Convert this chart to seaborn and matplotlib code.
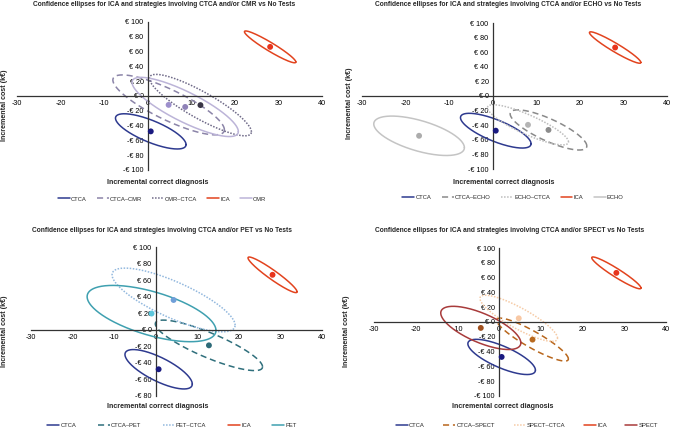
import numpy as np
import matplotlib
matplotlib.use("Agg")
import matplotlib.pyplot as plt
import seaborn as sns
from matplotlib.lines import Line2D

# ---------------- data ----------------
titles = [
    "Confidence ellipses for ICA and strategies involving CTCA and/or CMR vs No Tests",
    "Confidence ellipses for ICA and strategies involving CTCA and/or ECHO vs No Tests",
    "Confidence ellipses for ICA and strategies involving CTCA and/or PET vs No Tests",
    "Confidence ellipses for ICA and strategies involving CTCA and/or SPECT vs No Tests",
]

# CMR panel
cmr_names = ["CTCA", "CTCA\u2013CMR", "CMR\u2013CTCA", "ICA", "CMR"]
cmr_cx = [0.7, 4.8, 12.1, 28.1, 8.6]
cmr_cy = [-47.8, -12.0, -12.3, 66.4, -14.8]
cmr_ex = [8.1, 12.8, 11.7, 5.9, 12.2]
cmr_ey = [23.8, 40.5, 41.5, 21.5, 40.0]
cmr_rho = [-0.75, -0.83, -0.87, -0.95, -0.83]

# ECHO panel
echo_names = ["CTCA", "CTCA\u2013ECHO", "ECHO\u2013CTCA", "ICA", "ECHO"]
echo_cx = [0.7, 12.8, 8.1, 28.1, -16.9]
echo_cy = [-47.5, -46.5, -39.5, 66.4, -54.5]
echo_ex = [8.1, 8.8, 9.3, 5.9, 10.4]
echo_ey = [23.8, 27.5, 27.5, 21.5, 27.0]
echo_rho = [-0.75, -0.80, -0.85, -0.95, -0.60]

# PET panel
pet_names = ["CTCA", "CTCA\u2013PET", "PET\u2013CTCA", "ICA", "PET"]
pet_cx = [0.7, 12.8, 4.3, 28.1, -1.0]
pet_cy = [-47.7, -18.8, 36.0, 66.4, 19.6]
pet_ex = [8.1, 12.9, 14.8, 5.9, 15.5]
pet_ey = [23.8, 30.5, 38.5, 21.5, 34.0]
pet_rho = [-0.75, -0.85, -0.79, -0.95, -0.60]

# SPECT panel
spect_names = ["CTCA", "CTCA\u2013SPECT", "SPECT\u2013CTCA", "ICA", "SPECT"]
spect_cx = [0.6, 8.0, 4.7, 28.1, -4.4]
spect_cy = [-47.2, -23.8, 5.0, 66.4, -8.0]
spect_ex = [8.1, 8.6, 9.3, 5.9, 9.6]
spect_ey = [23.8, 29.0, 31.2, 21.5, 29.2]
spect_rho = [-0.75, -0.90, -0.86, -0.95, -0.69]

x_ticks = [-30, -20, -10, 0, 10, 20, 30, 40]
y_ticks_full = [-100, -80, -60, -40, -20, 0, 20, 40, 60, 80, 100]
y_ticks_pet = [-80, -60, -40, -20, 0, 20, 40, 60, 80, 100]

# ---------------- styles ----------------
line_colors = [
    ["#2e3a8f", "#8b84a8", "#6f6a88", "#e2431e", "#bcb4d8"],
    ["#2e3a8f", "#8a8a8a", "#bdbdbd", "#e2431e", "#c4c4c4"],
    ["#2e3a8f", "#2f6f7c", "#92b8de", "#e2431e", "#3fa0b0"],
    ["#2e3a8f", "#b8661c", "#f6cba6", "#e2431e", "#a83b3b"],
]
point_colors = [
    ["#1a1a80", "#9d8fcc", "#3a3646", "#e8341c", "#8f82b8"],
    ["#1a1a80", "#8c8c8c", "#b5b5b5", "#e8341c", "#acacac"],
    ["#1a1a80", "#2d6a78", "#6f9fd8", "#e8341c", "#5cc6dc"],
    ["#1a1a80", "#b86a20", "#f8c8a4", "#e8341c", "#a0501e"],
]
styles = ["-", (0, (4, 2.5)), (0, (1, 1)), "-", "-"]

panels = [
    (cmr_names, cmr_cx, cmr_cy, cmr_ex, cmr_ey, cmr_rho, y_ticks_full, (-100, 100)),
    (echo_names, echo_cx, echo_cy, echo_ex, echo_ey, echo_rho, y_ticks_full, (-100, 100)),
    (pet_names, pet_cx, pet_cy, pet_ex, pet_ey, pet_rho, y_ticks_pet, (-80, 100)),
    (spect_names, spect_cx, spect_cy, spect_ex, spect_ey, spect_rho, y_ticks_full, (-100, 100)),
]

sns.set_style("white")
plt.rcParams["font.family"] = ["Liberation Sans", "DejaVu Sans"]

W, H = 673, 429
fig = plt.figure(figsize=(W / 100, H / 100), dpi=100)

# axes rectangles in pixels: left, right, top, bottom
rects = [(17, 322, 22, 170), (362, 667, 23, 169), (31, 322, 247, 396), (374, 666, 248, 396)]
title_pos = [(164, 5), (508, 5), (162, 231), (510, 231)]
ylab_pos = [(5, 105), (349, 103), (5, 331), (347, 331)]
xlab_pos = [(158, 183), (504, 183), (158, 407), (503, 407)]
leg_pos = [(162, 199), (513, 197), (172, 425), (527, 425)]
col_space = [1.7, 1.8, 3.7, 3.2]

def fmt_euro(v):
    return f"\u20ac {v}" if v >= 0 else f"-\u20ac {abs(v)}"

t = np.linspace(0, 2 * np.pi, 300)

for i, (names, cx, cy, ex, ey, rho, yt, ylim) in enumerate(panels):
    l, r, tp, b = rects[i]
    ax = fig.add_axes([l / W, 1 - b / H, (r - l) / W, (b - tp) / H])
    handles = []
    for j in range(len(names)):
        s = np.sqrt(1 - rho[j] ** 2)
        xs = cx[j] + ex[j] * np.cos(t)
        ys = cy[j] + ey[j] * (rho[j] * np.cos(t) + s * np.sin(t))
        sns.lineplot(x=xs, y=ys, sort=False, estimator=None, ax=ax,
                     color=line_colors[i][j], linestyle=styles[j], lw=1.1)
        handles.append(Line2D([], [], color=line_colors[i][j], linestyle=styles[j],
                              lw=1.1, label=names[j]))
    for j in range(len(names)):
        sns.scatterplot(x=[cx[j]], y=[cy[j]], color=point_colors[i][j], s=18,
                        edgecolor="none", ax=ax, zorder=5)
    ax.set_xlim(-30, 40)
    ax.set_ylim(*ylim)
    ax.set_xticks(x_ticks)
    ax.set_xticklabels([str(v) for v in x_ticks])
    ax.set_yticks(yt)
    ax.set_yticklabels([fmt_euro(v) for v in yt])
    ax.spines["left"].set_position(("data", 0))
    ax.spines["bottom"].set_position(("data", 0))
    ax.spines["top"].set_visible(False)
    ax.spines["right"].set_visible(False)
    for sp in ("left", "bottom"):
        ax.spines[sp].set_color("#333333")
        ax.spines[sp].set_linewidth(0.9)
    ax.tick_params(axis="both", labelsize=5.2, length=2, width=0.6, pad=1,
                   colors="#333333", labelcolor="black", direction="out")
    ax.set_xlabel("")
    ax.set_ylabel("")
    if ax.get_legend() is not None:
        ax.get_legend().remove()
    ax.set_facecolor("none")

    tx, ty = title_pos[i]
    fig.text(tx / W, 1 - ty / H, titles[i], ha="center", va="center",
             fontsize=4.8, fontweight="bold")
    yx, yy = ylab_pos[i]
    fig.text(yx / W, 1 - yy / H, "Incremental cost (k\u20ac)", ha="center", va="center",
             rotation=90, fontsize=5.1, fontweight="bold")
    xx, xy = xlab_pos[i]
    fig.text(xx / W, 1 - xy / H, "Incremental correct diagnosis", ha="center",
             va="center", fontsize=5.1, fontweight="bold")
    lx, ly = leg_pos[i]
    fig.legend(handles=handles, loc="center", bbox_to_anchor=(lx / W, 1 - ly / H),
               ncol=5, frameon=False, fontsize=4.2, handlelength=2.05,
               handletextpad=0.2, columnspacing=col_space[i], borderpad=0)

fig.savefig("out.png", dpi=100)
